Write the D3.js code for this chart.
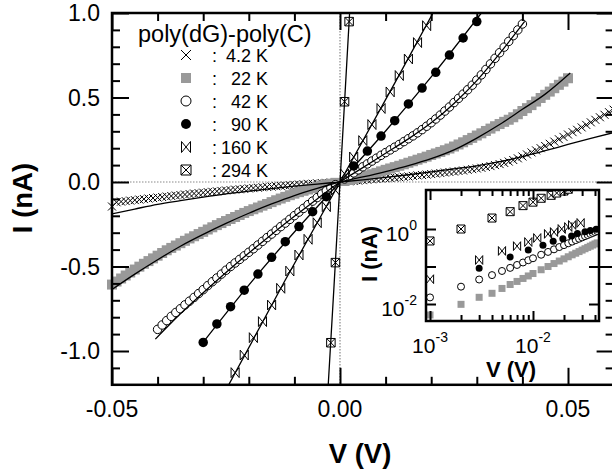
<!DOCTYPE html>
<html>
<head>
<meta charset="utf-8">
<script src="https://cdn.jsdelivr.net/npm/d3@7/dist/d3.min.js"></script>
<style>
html,body{margin:0;padding:0;background:#fff;}
svg{display:block;}
text{font-family:"Liberation Sans",Arial,Helvetica,sans-serif;fill:#000;}
</style>
</head>
<body>
<svg id="chart" width="612" height="473"></svg>
<script>
// ================= DATA =================
const xTickValues = [-0.05, 0.00, 0.05];
const xTickLabels = ["-0.05", "0.00", "0.05"];
const xMinorTicks = [-0.04, -0.03, -0.02, -0.01, 0.01, 0.02, 0.03, 0.04];
const yTickValues = [-1.0, -0.5, 0.0, 0.5, 1.0];
const yTickLabels = ["-1.0", "-0.5", "0.0", "0.5", "1.0"];
const yMinorTicks = [-1.1, -0.9, -0.8, -0.7, -0.6, -0.4, -0.3, -0.2, -0.1, 0.1, 0.2, 0.3, 0.4, 0.6, 0.7, 0.8, 0.9];

const legendTitle = "poly(dG)-poly(C)";
const legendTemps = ["4.2 K", "22 K", "42 K", "90 K", "160 K", "294 K"];

// 4.2 K (crosses)
const v4K = [-0.050,-0.049,-0.048,-0.047,-0.046,-0.045,-0.044,-0.043,-0.042,-0.041,-0.040,-0.039,-0.038,-0.037,-0.036,-0.035,-0.034,-0.033,-0.032,-0.031,-0.030,-0.029,-0.028,-0.027,-0.026,-0.025,-0.024,-0.023,-0.022,-0.021,-0.020,-0.019,-0.018,-0.017,-0.016,-0.015,-0.014,-0.013,-0.012,-0.011,-0.010,-0.009,-0.008,-0.007,-0.006,-0.005,-0.004,-0.003,-0.002,-0.001,
 0.001,0.002,0.003,0.004,0.005,0.006,0.007,0.008,0.009,0.010,0.011,0.012,0.013,0.014,0.015,0.016,0.017,0.018,0.019,0.020,0.021,0.022,0.023,0.024,0.025,0.026,0.027,0.028,0.029,0.030,0.031,0.032,0.033,0.034,0.035,0.036,0.037,0.038,0.039,0.040,0.041,0.042,0.043,0.044,0.045,0.046,0.047,0.048,0.049,0.050,0.051,0.052,0.053,0.054,0.055,0.056,0.057,0.058,0.059,0.060];
const i4K = [-0.145,-0.120,-0.116,-0.113,-0.110,-0.107,-0.104,-0.101,-0.098,-0.095,-0.092,-0.089,-0.086,-0.083,-0.080,-0.077,-0.074,-0.071,-0.068,-0.066,-0.063,-0.060,-0.058,-0.055,-0.053,-0.050,-0.048,-0.045,-0.043,-0.041,-0.038,-0.036,-0.034,-0.031,-0.029,-0.027,-0.025,-0.023,-0.021,-0.019,-0.017,-0.015,-0.013,-0.011,-0.010,-0.008,-0.006,-0.005,-0.003,-0.002,
 0.002,0.004,0.006,0.008,0.011,0.013,0.016,0.018,0.020,0.022,0.024,0.026,0.028,0.031,0.033,0.036,0.039,0.041,0.044,0.047,0.050,0.053,0.056,0.059,0.062,0.065,0.068,0.072,0.076,0.080,0.084,0.089,0.094,0.100,0.106,0.113,0.121,0.130,0.140,0.151,0.163,0.175,0.187,0.200,0.213,0.226,0.239,0.253,0.267,0.281,0.295,0.309,0.323,0.338,0.353,0.368,0.383,0.398,0.413,0.428];
const fv4K = [-0.0505,-0.045,-0.040,-0.035,-0.030,-0.025,-0.020,-0.015,-0.010,-0.005,0,0.005,0.010,0.015,0.020,0.025,0.030,0.035,0.040,0.045,0.050,0.055,0.0605];
const fi4K = [-0.192,-0.160,-0.132,-0.110,-0.089,-0.070,-0.054,-0.039,-0.025,-0.012,0,0.013,0.027,0.043,0.060,0.078,0.096,0.120,0.150,0.185,0.222,0.258,0.296];

// 22 K (grey squares)
const v22K = [-0.050,-0.049,-0.048,-0.047,-0.046,-0.045,-0.044,-0.043,-0.042,-0.041,-0.040,-0.039,-0.038,-0.037,-0.036,-0.035,-0.034,-0.033,-0.032,-0.031,-0.030,-0.029,-0.028,-0.027,-0.026,-0.025,-0.024,-0.023,-0.022,-0.021,-0.020,-0.019,-0.018,-0.017,-0.016,-0.015,-0.014,-0.013,-0.012,-0.011,-0.010,-0.009,-0.008,-0.007,-0.006,-0.005,-0.004,-0.003,-0.002,-0.001,
 0.001,0.002,0.003,0.004,0.005,0.006,0.007,0.008,0.009,0.010,0.011,0.012,0.013,0.014,0.015,0.016,0.017,0.018,0.019,0.020,0.021,0.022,0.023,0.024,0.025,0.026,0.027,0.028,0.029,0.030,0.031,0.032,0.033,0.034,0.035,0.036,0.037,0.038,0.039,0.040,0.041,0.042,0.043,0.044,0.045,0.046,0.047,0.048,0.049,0.050];
const i22K = [-0.607,-0.589,-0.571,-0.553,-0.536,-0.518,-0.501,-0.484,-0.468,-0.452,-0.436,-0.420,-0.404,-0.390,-0.376,-0.362,-0.348,-0.334,-0.321,-0.308,-0.295,-0.281,-0.268,-0.255,-0.243,-0.231,-0.219,-0.207,-0.195,-0.183,-0.172,-0.161,-0.151,-0.140,-0.130,-0.119,-0.108,-0.098,-0.088,-0.078,-0.069,-0.060,-0.052,-0.044,-0.036,-0.028,-0.021,-0.015,-0.010,-0.005,
 0.006,0.012,0.018,0.025,0.032,0.039,0.046,0.054,0.063,0.072,0.080,0.088,0.096,0.105,0.114,0.123,0.132,0.141,0.150,0.160,0.169,0.178,0.188,0.198,0.210,0.222,0.235,0.248,0.261,0.275,0.288,0.302,0.316,0.330,0.343,0.356,0.369,0.383,0.401,0.420,0.437,0.455,0.476,0.497,0.516,0.535,0.555,0.575,0.594,0.614];
const fv22K = [-0.0505,-0.045,-0.040,-0.035,-0.030,-0.025,-0.020,-0.015,-0.010,-0.005,0,0.005,0.010,0.015,0.020,0.025,0.030,0.035,0.040,0.045,0.0505];
const fi22K = [-0.645,-0.545,-0.460,-0.380,-0.310,-0.245,-0.185,-0.130,-0.080,-0.038,0,0.030,0.062,0.097,0.138,0.190,0.260,0.340,0.430,0.520,0.645];

// 42 K (open circles)
const v42K = [-0.040,-0.039,-0.038,-0.037,-0.036,-0.035,-0.034,-0.033,-0.032,-0.031,-0.030,-0.029,-0.028,-0.027,-0.026,-0.025,-0.024,-0.023,-0.022,-0.021,-0.020,-0.019,-0.018,-0.017,-0.016,-0.015,-0.014,-0.013,-0.012,-0.011,-0.010,-0.009,-0.008,-0.007,-0.006,-0.005,-0.004,-0.003,-0.002,-0.001,
 0.001,0.002,0.003,0.004,0.005,0.006,0.007,0.008,0.009,0.010,0.011,0.012,0.013,0.014,0.015,0.016,0.017,0.018,0.019,0.020,0.021,0.022,0.023,0.024,0.025,0.026,0.027,0.028,0.029,0.030,0.031,0.032,0.033,0.034,0.035,0.036,0.037,0.038,0.039,0.040];
const i42K = [-0.872,-0.846,-0.820,-0.795,-0.772,-0.750,-0.727,-0.705,-0.683,-0.660,-0.637,-0.613,-0.590,-0.568,-0.545,-0.522,-0.500,-0.479,-0.458,-0.437,-0.416,-0.395,-0.373,-0.351,-0.329,-0.308,-0.286,-0.264,-0.243,-0.221,-0.199,-0.178,-0.156,-0.134,-0.113,-0.092,-0.071,-0.052,-0.034,-0.016,
 0.018,0.036,0.054,0.072,0.090,0.107,0.124,0.141,0.158,0.174,0.190,0.206,0.222,0.239,0.256,0.273,0.291,0.310,0.330,0.351,0.373,0.396,0.420,0.444,0.470,0.495,0.520,0.546,0.573,0.603,0.634,0.666,0.699,0.732,0.765,0.798,0.832,0.866,0.900,0.935];
const fv42K = [-0.0405,-0.035,-0.030,-0.025,-0.020,-0.015,-0.010,-0.005,0,0.005,0.010,0.015,0.020,0.025,0.030,0.035,0.0405];
const fi42K = [-0.930,-0.780,-0.655,-0.535,-0.420,-0.310,-0.203,-0.100,0,0.085,0.170,0.255,0.350,0.465,0.600,0.760,0.950];

// 90 K (filled circles)
const v90K = [-0.030,-0.027,-0.024,-0.021,-0.018,-0.015,-0.012,-0.009,-0.006,-0.003,0.003,0.006,0.009,0.012,0.015,0.018,0.021,0.024,0.027,0.030];
const i90K = [-0.949,-0.840,-0.738,-0.640,-0.545,-0.446,-0.353,-0.264,-0.176,-0.087,0.095,0.183,0.272,0.363,0.462,0.556,0.649,0.751,0.852,0.949];
const fv90K = [-0.0305,-0.020,-0.010,0,0.010,0.020,0.031];
const fi90K = [-0.965,-0.610,-0.296,0,0.302,0.622,1.000];

// 160 K (bow ties)
const v160K = [-0.023,-0.021,-0.019,-0.017,-0.015,-0.013,-0.011,-0.009,-0.007,-0.005,-0.003,-0.001,0.001,0.003,0.005,0.007,0.009,0.011,0.013,0.015,0.017,0.019];
const i160K = [-1.128,-1.024,-0.921,-0.826,-0.728,-0.629,-0.527,-0.432,-0.339,-0.241,-0.146,-0.048,0.048,0.148,0.245,0.340,0.435,0.533,0.630,0.728,0.825,0.925];
const fv160K = [-0.0245,-0.012,0,0.012,0.021];
const fi160K = [-1.205,-0.580,0,0.585,1.030];

// 294 K (crossed squares)
const v294K = [-0.002,-0.001,0.001,0.002];
const i294K = [-0.951,-0.477,0.475,0.949];
const fv294K = [-0.0027,-0.0013,0,0.0011,0.0022];
const fi294K = [-1.255,-0.610,0,0.520,1.045];

// inset (log-log)
const insetXMajor = [1e-3, 1e-2];
const insetXMinor = [2e-3,3e-3,4e-3,5e-3,6e-3,7e-3,8e-3,9e-3,2e-2,3e-2,4e-2];
const insetYMajor = [1e-2, 1e-1, 1];
const insetXLabels = [["10","-3"],["10","-2"]];
const insetYLabelValues = [1, 1e-2];
const insetYLabels = [["10","0"],["10","-2"]];

const iv22K = [0.001,0.002,0.003,0.004,0.005,0.006,0.007,0.008,0.009,0.010,0.012,0.014,0.016,0.018,0.020,0.022,0.024,0.026,0.028,0.030,0.032,0.034,0.036,0.038,0.040,0.042];
const ii22K = [0.0051,0.0098,0.0151,0.0193,0.026,0.033,0.040,0.048,0.056,0.065,0.082,0.100,0.120,0.140,0.160,0.182,0.205,0.226,0.250,0.274,0.298,0.323,0.348,0.374,0.400,0.426];
const iv42K = [0.001,0.002,0.003,0.004,0.005,0.006,0.007,0.008,0.009,0.010,0.012,0.014,0.016,0.018,0.020,0.022,0.024,0.026,0.028,0.030,0.032,0.034,0.036,0.038,0.040,0.042];
const ii42K = [0.015,0.029,0.045,0.059,0.076,0.092,0.110,0.128,0.147,0.166,0.206,0.245,0.287,0.330,0.372,0.417,0.461,0.506,0.550,0.597,0.643,0.689,0.736,0.782,0.830,0.880];
const iv90K = [0.003,0.006,0.009,0.0125,0.0157,0.0195,0.0237,0.027,0.032,0.036,0.041];
const ii90K = [0.09,0.18,0.275,0.37,0.47,0.55,0.65,0.76,0.85,0.91,0.98];
const iv160K = [0.001,0.003,0.005,0.007,0.009,0.011,0.014,0.016,0.019,0.022,0.024,0.029];
const ii160K = [0.046,0.149,0.26,0.35,0.45,0.575,0.74,0.83,1.0,1.13,1.28,1.45];
const iv294K = [0.001,0.002,0.004,0.006,0.008,0.010,0.012,0.015,0.017,0.020,0.022];
const ii294K = [0.48,1.0,1.96,2.9,4.2,5.2,6.6,7.9,9.1,10.3,11.5];

// ================= DRAWING =================
const zip = (a, b) => a.slice(0, Math.min(a.length, b.length)).map((v, k) => [v, b[k]]);

const series = [
  {type:"x",    v:v4K,   i:i4K,   fv:fv4K,   fi:fi4K,   s:8},
  {type:"sq",   v:v22K,  i:i22K,  fv:fv22K,  fi:fi22K,  s:10},
  {type:"oc",   v:v42K,  i:i42K,  fv:fv42K,  fi:fi42K,  s:8.5},
  {type:"fc",   v:v90K,  i:i90K,  fv:fv90K,  fi:fi90K,  s:9.5},
  {type:"bow",  v:v160K, i:i160K, fv:fv160K, fi:fi160K, s:9},
  {type:"boxx", v:v294K, i:i294K, fv:fv294K, fi:fi294K, s:8.5}
];
const insetSeries = [
  {type:"sq",   v:iv22K,  i:ii22K,  s:7},
  {type:"oc",   v:iv42K,  i:ii42K,  s:7},
  {type:"fc",   v:iv90K,  i:ii90K,  s:7},
  {type:"bow",  v:iv160K, i:ii160K, s:8},
  {type:"boxx", v:iv294K, i:ii294K, s:8}
];

function shapePath(type, cx, cy, s) {
  const h = s / 2;
  switch (type) {
    case "x":  return `M${cx-h},${cy-h}L${cx+h},${cy+h}M${cx-h},${cy+h}L${cx+h},${cy-h}`;
    case "sq": return `M${cx-h},${cy-h}h${s}v${s}h${-s}Z`;
    case "oc":
    case "fc": return `M${cx-h},${cy}a${h},${h} 0 1,0 ${s},0a${h},${h} 0 1,0 ${-s},0Z`;
    case "bow": { const w = s*0.45, t = s*0.55;
      return `M${cx-w},${cy-t}L${cx+w},${cy+t}L${cx+w},${cy-t}L${cx-w},${cy+t}Z`; }
    case "boxx": return `M${cx-h},${cy-h}h${s}v${s}h${-s}ZM${cx-h},${cy-h}L${cx+h},${cy+h}M${cx+h},${cy-h}L${cx-h},${cy+h}`;
  }
}
function styleMarker(sel, type) {
  const st = {
    x:    {fill:"none", stroke:"#000", sw:1},
    sq:   {fill:"#999999", stroke:"none", sw:0},
    oc:   {fill:"#fff", stroke:"#000", sw:1},
    fc:   {fill:"#000", stroke:"none", sw:0},
    bow:  {fill:"#fff", stroke:"#000", sw:1},
    boxx: {fill:"#fff", stroke:"#000", sw:1}
  }[type];
  sel.attr("fill", st.fill).attr("stroke", st.stroke).attr("stroke-width", st.sw);
}
function drawMarkers(g, type, pts, s) {
  const sel = g.selectAll(null).data(pts).join("path").attr("d", d => shapePath(type, d[0], d[1], s));
  styleMarker(sel, type);
}

const svg = d3.select("#chart");
const P = {l:112, r:613.6, t:13, b:384.8};
const x = d3.scaleLinear().domain([-0.05, 0.06]).range([P.l, P.r]);
const y = d3.scaleLinear().domain([-1.2, 1.0]).range([P.b, P.t]);

const defs = svg.append("defs");
defs.append("clipPath").attr("id", "clipMain").append("rect")
  .attr("x", P.l).attr("y", P.t).attr("width", P.r - P.l).attr("height", P.b - P.t);

// dotted zero lines
svg.append("line").attr("x1", x(-0.05)).attr("x2", x(0.06)).attr("y1", y(0)).attr("y2", y(0))
  .attr("stroke", "#8a8a8a").attr("stroke-width", 1.2).attr("stroke-dasharray", "1.5,1.5");
svg.append("line").attr("x1", x(0)).attr("x2", x(0)).attr("y1", y(1.0)).attr("y2", y(-1.2))
  .attr("stroke", "#8a8a8a").attr("stroke-width", 1.2).attr("stroke-dasharray", "1.5,1.5");

// markers
const gM = svg.append("g");
series.forEach(s => drawMarkers(gM.append("g"), s.type, zip(s.v, s.i).map(d => [x(d[0]), y(d[1])]), s.s));

// fit lines
const line = d3.line().x(d => x(d[0])).y(d => y(d[1])).curve(d3.curveMonotoneX);
const gL = svg.append("g").attr("clip-path", "url(#clipMain)");
series.forEach(s => gL.append("path").attr("d", line(zip(s.fv, s.fi)))
  .attr("fill", "none").attr("stroke", "#000").attr("stroke-width", 1.3));

// axes ticks
function addTicks(axisFn, scale, vals, size, tr, sw) {
  svg.append("g").attr("transform", tr)
    .call(axisFn(scale).tickValues(vals).tickSize(size).tickSizeOuter(0).tickFormat(""))
    .call(g => g.select(".domain").remove())
    .call(g => g.selectAll("line").attr("stroke", "#000").attr("stroke-width", sw));
}
addTicks(d3.axisBottom, x, xTickValues, -17, `translate(0,${P.b})`, 2);
addTicks(d3.axisBottom, x, xMinorTicks, -8, `translate(0,${P.b})`, 2);
addTicks(d3.axisTop, x, xTickValues, -17, `translate(0,${P.t})`, 2);
addTicks(d3.axisTop, x, xMinorTicks, -8, `translate(0,${P.t})`, 2);
addTicks(d3.axisLeft, y, yTickValues, -17, `translate(${P.l},0)`, 2);
addTicks(d3.axisLeft, y, yMinorTicks, -8, `translate(${P.l},0)`, 2);
addTicks(d3.axisRight, y, yTickValues, -17, `translate(${P.r},0)`, 2);
addTicks(d3.axisRight, y, yMinorTicks, -8, `translate(${P.r},0)`, 2);
svg.append("rect").attr("x", P.l).attr("y", P.t).attr("width", P.r - P.l).attr("height", P.b - P.t)
  .attr("fill", "none").attr("stroke", "#000").attr("stroke-width", 2.5);

// tick labels
svg.append("g").selectAll("text").data(xTickValues).join("text")
  .attr("x", d => x(d)).attr("y", 417).attr("text-anchor", "middle").attr("font-size", 23)
  .text((d, k) => xTickLabels[k]);
svg.append("g").selectAll("text").data(yTickValues).join("text")
  .attr("x", 100).attr("y", d => y(d)).attr("dy", "0.36em").attr("text-anchor", "end").attr("font-size", 23)
  .text((d, k) => yTickLabels[k]);

// axis titles
svg.append("text").attr("x", 360).attr("y", 463).attr("text-anchor", "middle")
  .attr("font-size", 27.5).attr("font-weight", "bold").text("V (V)");
svg.append("text").attr("transform", "translate(32,198) rotate(-90)").attr("text-anchor", "middle")
  .attr("font-size", 27.5).attr("font-weight", "bold").text("I (nA)");

// legend
svg.append("text").attr("x", 138).attr("y", 42).attr("font-size", 23.5).text(legendTitle);
const gLeg = svg.append("g");
legendTemps.forEach((t, k) => {
  const cy = 55 + k * 23;
  drawMarkers(gLeg.append("g"), series[k].type, [[186, cy]], 10);
  gLeg.append("text").attr("x", 212).attr("y", cy + 6.5).attr("font-size", 18).text(":");
  gLeg.append("text").attr("x", 268).attr("y", cy + 6.5).attr("font-size", 18).attr("text-anchor", "end").text(t);
});

// ================= INSET =================
const I = {l:426, r:599, t:190, b:321};
const xi = d3.scaleLog().domain([Math.pow(10, -3.039), Math.pow(10, -1.359)]).range([I.l, I.r]);
const yi = d3.scaleLog().domain([Math.pow(10, -2.453), Math.pow(10, 1.04)]).range([I.b, I.t]);
defs.append("clipPath").attr("id", "clipInset").append("rect")
  .attr("x", I.l).attr("y", I.t).attr("width", I.r - I.l).attr("height", I.b - I.t);
svg.append("rect").attr("x", I.l).attr("y", I.t).attr("width", I.r - I.l).attr("height", I.b - I.t).attr("fill", "#fff");
const gI = svg.append("g").attr("clip-path", "url(#clipInset)");
insetSeries.forEach(s => drawMarkers(gI.append("g"), s.type, zip(s.v, s.i).map(d => [xi(d[0]), yi(d[1])]), s.s));

addTicks(d3.axisBottom, xi, insetXMajor, -10, `translate(0,${I.b})`, 2);
addTicks(d3.axisBottom, xi, insetXMinor, -6, `translate(0,${I.b})`, 2);
addTicks(d3.axisTop, xi, insetXMajor, -10, `translate(0,${I.t})`, 2);
addTicks(d3.axisTop, xi, insetXMinor, -6, `translate(0,${I.t})`, 2);
addTicks(d3.axisLeft, yi, insetYMajor, -10, `translate(${I.l},0)`, 2);
addTicks(d3.axisRight, yi, insetYMajor, -10, `translate(${I.r},0)`, 2);
svg.append("rect").attr("x", I.l).attr("y", I.t).attr("width", I.r - I.l).attr("height", I.b - I.t)
  .attr("fill", "none").attr("stroke", "#000").attr("stroke-width", 2.5);

// inset tick labels
insetXMajor.forEach((v, k) => {
  const t = svg.append("text").attr("x", xi(v)).attr("y", 353).attr("text-anchor", "middle").attr("font-size", 21);
  t.append("tspan").text(insetXLabels[k][0]);
  t.append("tspan").attr("dy", -11).attr("font-size", 14).text(insetXLabels[k][1]);
});
insetYLabelValues.forEach((v, k) => {
  const t = svg.append("text").attr("x", 417).attr("y", yi(v) + 12).attr("text-anchor", "end").attr("font-size", 21);
  t.append("tspan").text(insetYLabels[k][0]);
  t.append("tspan").attr("dy", -11).attr("font-size", 14).text(insetYLabels[k][1]);
});
svg.append("text").attr("x", 511).attr("y", 377).attr("text-anchor", "middle")
  .attr("font-size", 22).attr("font-weight", "bold").text("V (V)");
svg.append("text").attr("transform", "translate(377,254) rotate(-90)").attr("text-anchor", "middle")
  .attr("font-size", 22).attr("font-weight", "bold").text("I (nA)");
</script>
</body>
</html>
